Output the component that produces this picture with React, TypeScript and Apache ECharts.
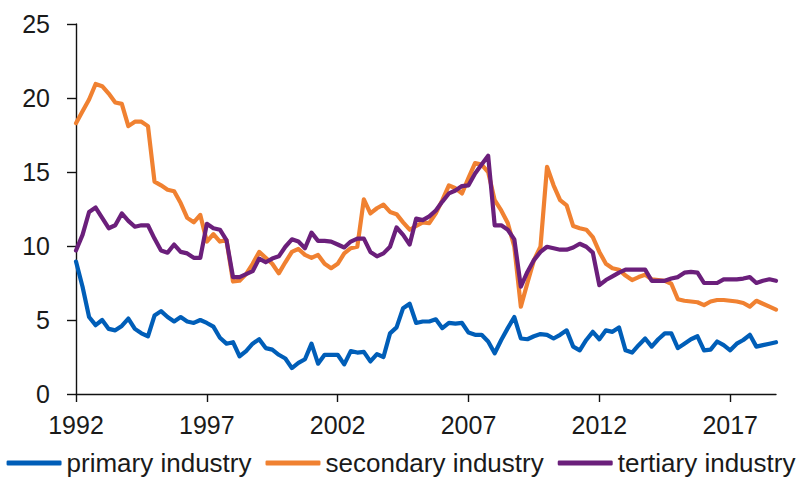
import React, { useEffect, useRef } from "react";
import * as echarts from "echarts";

const startYear = 1992;
const quarterCount = 108;
const quarters: string[] = [];
for (let i = 0; i < quarterCount; i++) {
  quarters.push(`${startYear + Math.floor(i / 4)} Q${(i % 4) + 1}`);
}

const seriesNames = ["primary industry", "secondary industry", "tertiary industry"];

const primary = [
  8.95, 7.25, 5.2, 4.65, 5.0, 4.4, 4.3, 4.6, 5.1, 4.4, 4.1, 3.9,
  5.3, 5.6, 5.2, 4.9, 5.2, 4.9, 4.8, 5.0, 4.8, 4.55, 3.8, 3.4,
  3.5, 2.55, 2.9, 3.4, 3.7, 3.1, 3.0, 2.65, 2.4, 1.75, 2.1, 2.35,
  3.4, 2.05, 2.65, 2.65, 2.65, 2.0, 2.9, 2.8, 2.85, 2.2, 2.7, 2.5,
  4.1, 4.5, 5.8, 6.1, 4.8, 4.9, 4.9, 5.05, 4.45, 4.8, 4.75, 4.8,
  4.15, 4.0, 4.0, 3.55, 2.75, 3.65, 4.45, 5.2, 3.75, 3.7, 3.9, 4.05,
  4.0, 3.75, 4.0, 4.3, 3.2, 2.95, 3.65, 4.2, 3.7, 4.3, 4.2, 4.5,
  2.95, 2.8, 3.3, 3.75, 3.2, 3.7, 4.1, 4.1, 3.1, 3.4, 3.7, 3.9,
  2.95, 3.0, 3.55, 3.3, 2.95, 3.4, 3.65, 4.0, 3.2, 3.3, 3.4, 3.5,
];

const secondary = [
  18.3, 19.1, 19.9, 20.95, 20.8, 20.3, 19.7, 19.6, 18.1, 18.4, 18.4, 18.1,
  14.35, 14.1, 13.8, 13.7, 12.9, 11.9, 11.6, 12.1, 10.3, 10.8, 10.3, 10.4,
  7.6, 7.65, 8.1, 8.8, 9.6, 9.2, 8.8, 8.15, 8.9, 9.6, 9.8, 9.4,
  9.2, 9.4, 8.8, 8.5, 8.8, 9.5, 9.85, 9.95, 13.15, 12.2, 12.55, 12.8,
  12.3, 12.15, 11.6, 11.1, 11.35, 11.6, 11.55, 12.2, 13.1, 14.1, 13.9, 13.55,
  14.6, 15.6, 15.5, 15.0, 13.1, 12.4, 11.55, 9.95, 5.9, 7.5, 9.05, 9.95,
  15.35, 14.1, 13.1, 12.75, 11.35, 11.2, 11.1, 10.6, 9.6, 8.8, 8.5, 8.4,
  8.0, 7.7, 7.9, 8.05, 7.75, 7.7, 7.65, 7.45, 6.4, 6.3, 6.25, 6.2,
  6.0, 6.25, 6.35, 6.35, 6.3, 6.25, 6.15, 5.9, 6.3, 6.1, 5.9, 5.7,
];

const tertiary = [
  9.7, 10.75, 12.3, 12.6, 11.9, 11.2, 11.4, 12.2, 11.7, 11.3, 11.4, 11.4,
  10.5, 9.7, 9.55, 10.1, 9.6, 9.5, 9.2, 9.2, 11.5, 11.2, 11.1, 10.4,
  7.9, 7.9, 8.1, 8.3, 9.15, 8.9, 9.15, 9.3, 9.95, 10.45, 10.3, 9.85,
  10.9, 10.35, 10.35, 10.3, 10.1, 9.9, 10.3, 10.5, 10.5, 9.6, 9.3, 9.5,
  9.95, 11.25, 10.75, 10.1, 11.85, 11.75, 12.0, 12.4, 13.0, 13.55, 13.75, 14.05,
  14.1, 14.9, 15.5, 16.1, 11.4, 11.4, 11.1, 10.45, 7.25, 8.25, 9.05, 9.6,
  9.95, 9.85, 9.75, 9.75, 9.9, 10.15, 9.95, 9.55, 7.35, 7.7, 7.95, 8.2,
  8.4, 8.4, 8.4, 8.4, 7.65, 7.65, 7.65, 7.8, 7.9, 8.2, 8.25, 8.2,
  7.5, 7.5, 7.5, 7.75, 7.75, 7.75, 7.8, 7.9, 7.5, 7.65, 7.75, 7.65,
];

const colors = ["#005EB8", "#F08131", "#6B1F7B"];
const FONT = "'Liberation Sans', Arial, sans-serif";
const TEXT = "#1a1a1a";

export default function App() {
  const ref = useRef<HTMLDivElement>(null);
  useEffect(() => {
    if (!ref.current) return;
    const chart = echarts.init(ref.current, undefined, { renderer: "svg" });
    const data = [primary, secondary, tertiary];
    chart.setOption({
      animation: false,
      color: colors,
      textStyle: { fontFamily: FONT },
      grid: { left: 76, right: 26, top: 24, bottom: 84, containLabel: false },
      legend: {
        data: seriesNames,
        left: "center",
        top: 450,
        padding: 0,
        itemWidth: 55,
        itemHeight: 5,
        itemGap: 14,
        icon: "roundRect",
        textStyle: { fontSize: 26, lineHeight: 26, color: TEXT, fontFamily: FONT },
      },
      xAxis: {
        type: "category",
        data: quarters,
        boundaryGap: false,
        axisLine: { show: true, lineStyle: { color: "#111", width: 1.4 } },
        axisTick: { show: true, interval: 19, length: 8, lineStyle: { color: "#111", width: 1.4 } },
        axisLabel: {
          interval: 19,
          fontSize: 25,
          color: TEXT,
          fontFamily: FONT,
          margin: 18,
          formatter: (v: string) => v.slice(0, 4),
        },
        splitLine: { show: false },
      },
      yAxis: {
        type: "value",
        min: 0,
        max: 25,
        interval: 5,
        axisLine: { show: true, lineStyle: { color: "#111", width: 1.4 } },
        axisTick: { show: true, length: 9, lineStyle: { color: "#111", width: 1.4 } },
        axisLabel: { fontSize: 25, color: TEXT, fontFamily: FONT, margin: 26 },
        splitLine: { show: false },
      },
      series: seriesNames.map((name, k) => ({
        name,
        type: "line",
        data: data[k],
        symbol: "none",
        lineStyle: { width: 4.2, color: colors[k], cap: "round", join: "round" },
        itemStyle: { color: colors[k] },
      })),
    });
    return () => chart.dispose();
  }, []);
  return (
    <div
      ref={ref}
      style={{ position: "fixed", left: 0, top: 0, width: 802, height: 478, background: "#fff" }}
    />
  );
}
